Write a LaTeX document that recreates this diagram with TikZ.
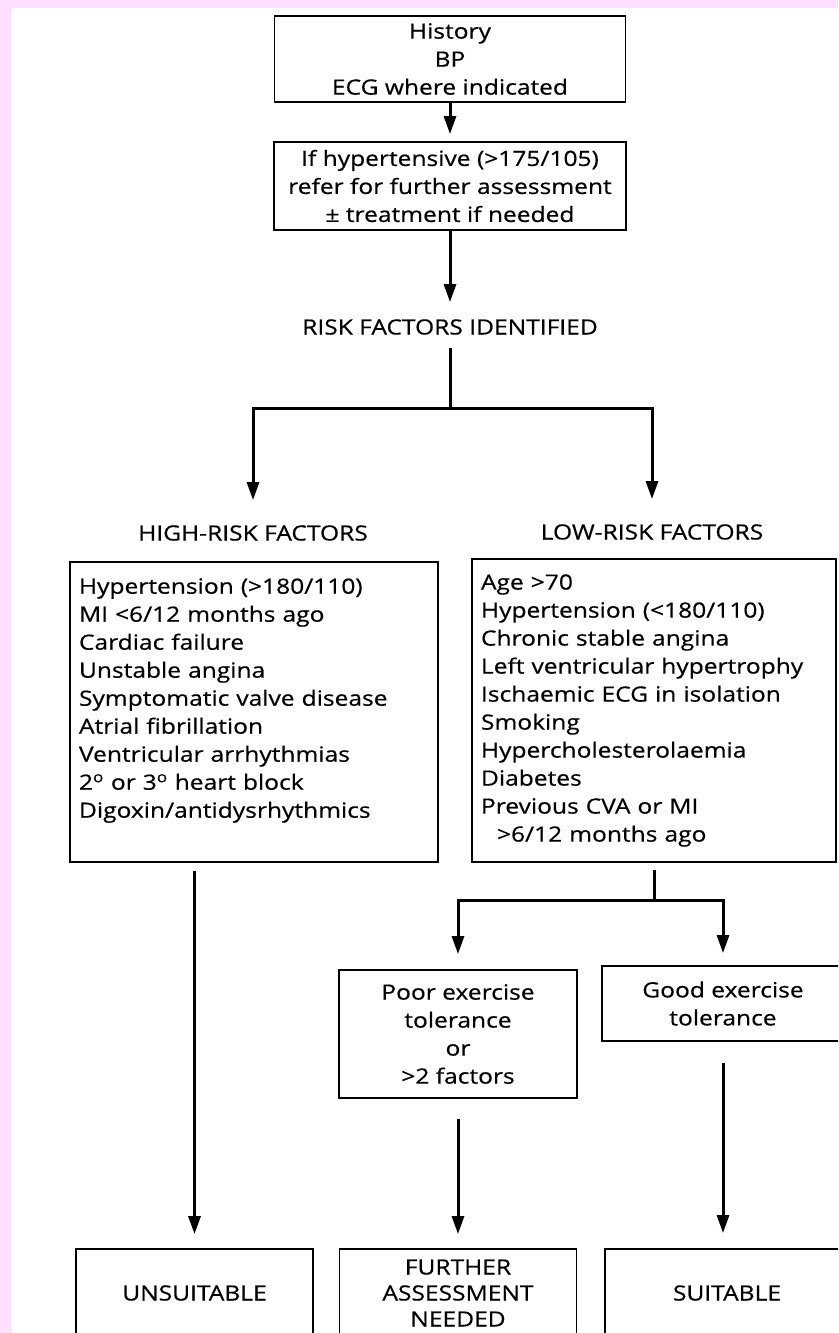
\documentclass[tikz,border=0pt]{standalone}
\usepackage{fontspec}
\setmainfont{Open Sans}[FakeStretch=1.17, FakeBold=0.5]
\usetikzlibrary{arrows.meta}
\definecolor{framepink}{RGB}{255,222,254}

\begin{document}
\begin{tikzpicture}[x=1pt, y=-1pt,
  every node/.style={font=\fontsize{21}{28}\selectfont},
  box/.style={draw, line width=1.8pt, inner sep=0pt, align=center},
  listbox/.style={draw, line width=1.8pt, inner xsep=9pt, inner ysep=0pt, align=left},
  lbl/.style={inner sep=0pt},
  link/.style={line width=3pt},
  arr/.style={line width=3pt, -{Triangle[width=12pt,length=18pt]}}]

% Frame
\fill[framepink] (0,0) rectangle (838,1333);
\fill[white] (11,8) rectangle (838,1333);
\useasboundingbox (0,0) rectangle (838,1333);
\clip (0,0) rectangle (838,1333);

% Assessment
\node[box, minimum width=351pt, minimum height=86pt] (hist) at (450,59) {History\\BP\\ECG where indicated};
\node[box, minimum width=352pt, minimum height=88pt] (hyp) at (450,186) {If hypertensive (>175/105)\\refer for further assessment\\± treatment if needed};
\node[lbl] (risk) at (450,327) {RISK FACTORS IDENTIFIED};

% Risk factors
\node[lbl] (highlbl) at (253,533) {HIGH-RISK FACTORS};
\node[lbl] (lowlbl) at (652,532) {LOW-RISK FACTORS};

\node[listbox, text width=350pt, minimum height=300pt] (high) at (254,712) {Hypertension (>180/110)\\MI <6/12 months ago\\Cardiac failure\\Unstable angina\\Symptomatic valve disease\\Atrial fibrillation\\Ventricular arrhythmias\\2\textsuperscript{o} or 3\textsuperscript{o} heart block\\Digoxin/antidysrhythmics\\\mbox{}};
\node[listbox, text width=346pt, minimum height=303pt] (low) at (654,710.5) {Age >70\\Hypertension (<180/110)\\Chronic stable angina\\Left ventricular hypertrophy\\Ischaemic ECG in isolation\\Smoking\\Hypercholesterolaemia\\Diabetes\\Previous CVA or MI\\\hspace*{16pt}>6/12 months ago};

% Exercise tolerance
\node[box, minimum width=238pt, minimum height=128pt] (poor) at (458,1034) {Poor exercise\\tolerance\\or\\>2 factors};
\node[box, minimum width=242pt, minimum height=75pt] (good) at (723,1003.5) {Good exercise\\tolerance};

% Outcome
\node[box, minimum width=237pt, minimum height=88pt] (unsuit) at (194.5,1293) {UNSUITABLE};
\node[box, minimum width=237pt, minimum height=88pt, font=\fontsize{21}{26}\selectfont] (further) at (458,1293) {FURTHER\\ASSESSMENT\\NEEDED};
\node[box, minimum width=244pt, minimum height=88pt] (suit) at (727,1293) {SUITABLE};

% Arrows
\draw[arr, shorten >=7pt] (hist) -- (hyp);
\draw[arr, shorten >=17pt] (hyp) -- (risk);
\coordinate (fork1) at (450,408);
\draw[link, shorten <=13pt] (risk) -- (fork1);
\draw[arr, shorten >=25pt] (fork1) -| (highlbl);
\draw[arr, shorten >=25pt] (fork1) -| (lowlbl);

\draw[arr, shorten <=8pt, shorten >=14pt] (high.south -| unsuit.north) -- (unsuit.north);
\coordinate (fork2) at (654,900);
\draw[link, shorten <=7pt] (low) -- (fork2);
\draw[arr, shorten >=15pt] (fork2) -| (poor);
\draw[arr, shorten >=12pt] (fork2) -| (good);
\draw[arr, shorten <=20pt, shorten >=14pt] (poor) -- (further);
\draw[arr, shorten <=21pt, shorten >=15pt] (good) -- (good.south |- suit.north);
\end{tikzpicture}
\end{document}
